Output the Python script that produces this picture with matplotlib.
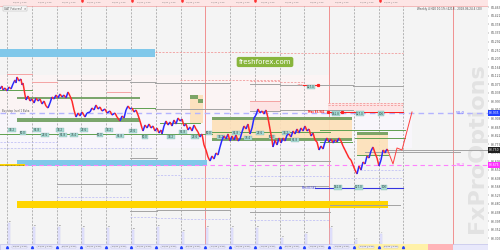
import matplotlib
matplotlib.use("Agg")
import matplotlib.pyplot as plt
from matplotlib.patches import Rectangle
from matplotlib.collections import LineCollection
import matplotlib.transforms as mtransforms
import numpy as np

# ---------------- data ----------------
bar_x = [0, 2, 3, 5, 7, 9, 11, 13, 15, 16, 17, 19, 21, 22, 23, 25, 26, 28, 30, 32, 34, 36, 38, 40,
         42, 44, 46, 48, 50, 52, 54, 56, 58, 60, 62, 64, 66, 68, 70, 72, 74, 76, 78, 80, 82, 85,
         87, 90, 92, 94, 96, 98, 100, 102, 105, 107, 110, 112, 115, 117, 120, 122, 124, 126, 128,
         130, 132, 134, 136, 138, 140, 142, 143, 145, 147, 149, 151, 153, 155, 157, 159, 161, 162,
         164, 166, 168, 170, 172, 174, 176, 178, 180, 182, 184, 186, 188, 190, 192, 194, 196, 198,
         200, 202, 204, 206, 208, 210, 212, 214, 216, 218, 220, 222, 224, 226, 228, 230, 232, 234,
         236, 238, 240, 242, 244, 246, 248, 250, 252, 254, 256, 258, 260, 262, 264, 266, 268, 270,
         272, 273, 275, 277, 279, 281, 283, 285, 287, 289, 291, 293, 295, 297, 299, 301, 303, 305,
         307, 309, 311, 313, 315, 317, 319, 321, 323, 325, 327, 329, 331, 333, 335, 337, 339, 341,
         343, 345, 347, 349, 351, 353, 355, 357, 359, 361, 363, 365, 367, 369, 371, 373, 375, 377,
         379, 381, 383, 385, 387, 388]
price = [84.055, 84.070, 84.050, 84.060, 84.045, 84.065, 84.055, 84.080, 84.100, 84.085, 84.115,
         84.095, 84.105, 84.075, 84.085, 84.025, 84.000, 84.020, 83.995, 84.005, 83.985, 84.010,
         83.995, 84.005, 83.980, 83.995, 83.970, 83.960, 83.985, 84.015, 84.005, 84.025, 84.010,
         84.030, 84.015, 84.025, 84.010, 84.040, 84.020, 83.995, 83.950, 83.915, 83.935, 83.920,
         83.940, 83.915, 83.935, 83.940, 83.960, 83.950, 83.975, 83.955, 83.965, 83.945, 83.955,
         83.935, 83.945, 83.925, 83.935, 83.915, 83.895, 83.920, 83.910, 83.950, 83.970, 83.955,
         83.960, 83.940, 83.950, 83.925, 83.895, 83.860, 83.845, 83.875, 83.860, 83.880, 83.860,
         83.870, 83.845, 83.860, 83.835, 83.850, 83.830, 83.870, 83.895, 83.875, 83.890, 83.870,
         83.900, 83.880, 83.910, 83.895, 83.905, 83.870, 83.880, 83.850, 83.865, 83.845, 83.875,
         83.855, 83.840, 83.815, 83.830, 83.775, 83.750, 83.715, 83.695, 83.720, 83.705, 83.735,
         83.725, 83.765, 83.800, 83.820, 83.805, 83.830, 83.795, 83.820, 83.800, 83.825, 83.795,
         83.805, 83.840, 83.870, 83.855, 83.880, 83.830, 83.860, 83.910, 83.925, 83.955, 83.935,
         83.945, 83.930, 83.950, 83.910, 83.855, 83.800, 83.765, 83.800, 83.775, 83.810, 83.785,
         83.810, 83.795, 83.825, 83.830, 83.815, 83.845, 83.830, 83.855, 83.835, 83.860, 83.845,
         83.870, 83.845, 83.855, 83.820, 83.835, 83.800, 83.790, 83.750, 83.770, 83.755, 83.790,
         83.810, 83.790, 83.805, 83.785, 83.800, 83.790, 83.810, 83.795, 83.770, 83.750, 83.730,
         83.710, 83.700, 83.675, 83.650, 83.630, 83.670, 83.650, 83.690, 83.680, 83.720, 83.710,
         83.745, 83.765, 83.735, 83.710, 83.670, 83.700, 83.750, 83.735, 83.755, 83.745]
proj_x = [388, 393, 397, 402, 412]
proj_p = [83.745, 83.680, 83.760, 83.750, 83.940]

day_lines = [7, 32, 57, 81, 106, 131, 156, 181, 230, 255, 280, 304, 354, 379, 403]
session_lines = [205, 329, 453]
top_dates = ["23/01 | 1:00", "24/01 | 1:00", "25/01 | 1:00", "26/01 | 1:00", "29/01 | 1:00",
             "30/01 | 1:00", "31/01 | 1:00", "01/02 | 1:00", "02/02 | 1:00", "05/02 | 1:00",
             "06/02 | 1:00", "07/02 | 1:00", "08/02 | 1:00", "09/02 | 1:00", "12/02 | 1:00",
             "13/02 | 1:00"]
bottom_dates = ["23/01 | 4:00", "24/01 | 4:00", "25/01 | 4:00", "26/01 | 4:00", "29/01 | 4:00",
                "30/01 | 4:00", "31/01 | 4:00", "01/02 | 4:00", "02/02 | 4:00", "05/02 | 4:00",
                "06/02 | 4:00", "07/02 | 4:00", "08/02 | 4:00", "09/02 | 4:00", "12/02 | 4:00",
                "13/02 | 4:00"]

blue_bands = [(0, 155, 84.255, 84.215), (17, 207, 83.700, 83.670)]
yellow_bands = [(17, 388, 83.495, 83.460)]
peach_boxes = [(190, 203, 84.025, 83.885), (212, 352, 83.915, 83.800), (357, 388, 83.840, 83.725)]
green_bars = [(17, 140, 84.015, 84.003), (17, 140, 83.910, 83.890), (190, 198, 84.025, 84.005),
              (198, 203, 84.005, 83.985), (212, 352, 83.915, 83.900), (212, 352, 83.812, 83.797),
              (357, 388, 83.842, 83.825)]
green_lines = [(0, 32, 84.050), (130, 155, 83.960), (160, 200, 83.885), (0, 212, 83.830),
               (320, 405, 83.850), (355, 405, 83.810), (320, 352, 83.790), (212, 330, 83.840),
               (357, 388, 83.725)]
gray_lines = [(57, 130, 84.100), (130, 155, 84.090), (155, 230, 84.085), (250, 280, 84.080),
              (280, 353, 84.075), (353, 403, 84.070), (155, 230, 83.955), (250, 280, 83.945),
              (280, 353, 83.950), (130, 157, 83.710), (57, 130, 83.580), (130, 157, 83.445),
              (157, 230, 83.450), (250, 330, 83.695), (365, 460, 83.740), (250, 328, 83.570),
              (250, 330, 83.440), (330, 400, 83.475), (383, 488, 83.750)]
pink_lines = [(7, 32, 84.130), (32, 57, 84.090), (107, 130, 84.040), (250, 280, 83.995)]
pink_dashed = [(155, 280, 84.240), (280, 403, 84.235), (180, 280, 84.100), (250, 280, 84.093),
               (280, 303, 84.088), (328, 403, 83.985), (328, 403, 83.975)]
pink_fills = [(250, 280, 83.995, 83.945), (328, 403, 83.985, 83.945)]
lav_lines = [(0, 153, 83.760), (57, 130, 83.515), (157, 180, 83.625), (180, 230, 83.610),
             (130, 157, 83.415), (157, 180, 83.410), (180, 230, 83.405), (0, 57, 83.790),
             (250, 330, 83.620), (330, 403, 83.610), (250, 330, 83.400), (353, 403, 83.650)]
max_line = [(303, 318, 84.075), (327, 403, 83.940)]
min_line = (315, 403, 83.560)
fib_mid = 83.935
fib_low = 83.675

teal_labels = [(12, 83.850, "38.2"), (23, 83.835, "50.0"), (37, 83.850, "61.8"), (45, 83.825, "23.6"),
               (60, 83.850, "38.2"), (63, 83.825, "61.8"), (74, 83.825, "76.4"), (84, 83.850, "23.6"),
               (100, 83.825, "50.0"), (109, 83.850, "38.2"), (120, 83.820, "61.8"), (133, 83.845, "23.6"),
               (145, 83.815, "50.0"), (171, 83.815, "38.2"), (183, 83.840, "61.8"), (195, 83.815, "23.6"),
               (209, 83.835, "50.0"), (221, 83.815, "38.2"), (236, 83.835, "61.8"), (248, 83.810, "76.4"),
               (260, 83.835, "23.6"), (272, 83.815, "50.0"), (286, 83.835, "38.2"), (295, 83.800, "61.8"),
               (311, 84.065, "127.0"), (336, 83.932, "161.8"), (360, 83.932, "127.0"), (381, 83.932, "100"),
               (338, 83.563, "161.8"), (359, 83.563, "127.0"), (384, 83.563, "100")]
vol_x = [8, 33, 58, 82, 107, 132, 157, 182, 206, 231, 256, 281, 305, 330, 355, 380]
vol_top = [83.385, 83.365, 83.365, 83.360, 83.360, 83.350, 83.365, 83.340, 83.360, 83.360,
           83.360, 83.310, 83.330, 83.360, 83.300, 83.330]
vol_text = ["75", "69", "68", "64", "63", "58", "67", "51", "60", "62", "61", "14", "32", "55", "6", "7"]

# ---------------- figure ----------------
fig = plt.figure(figsize=(5, 2.5), dpi=100)
fig.patch.set_facecolor("white")
ax = fig.add_axes([0, 0, 0.976, 1])
ax.set_xlim(0, 488)
ax.set_ylim(83.25, 84.50)
ax.set_facecolor("#f4f4f4")
for s in ax.spines.values():
    s.set_visible(False)

# faint background zones
ax.add_patch(Rectangle((0, 83.935), 330, 0.19, fc="#fbf4f4", ec="none", zorder=0))
ax.add_patch(Rectangle((0, 83.76), 412, 0.175, fc="#f8f6fb", ec="none", zorder=0))

# watermark (behind everything)
ax.text(477, 83.76, "FxProOptions", fontsize=16, fontweight="bold", color="#e2e2e2",
        rotation=90, ha="center", va="center", zorder=0.5)

# grid (day separators)
for x in day_lines:
    ax.axvline(x, color="#9a9a9a", lw=0.5, ls=(0, (3, 2)), zorder=1)
for x in session_lines:
    ax.axvline(x, color="#f09090", lw=0.7, zorder=1)

def band(x0, x1, top, bot, fc, z=2, alpha=1.0):
    ax.add_patch(Rectangle((x0, bot), x1 - x0, top - bot, fc=fc, ec="none", zorder=z, alpha=alpha))

for b in pink_fills:
    band(*b, "#fde4e4", z=1.5)
for b in blue_bands:
    band(*b, "#80c8ea", z=2)
for b in yellow_bands:
    band(*b, "#ffd500", z=2)
for b in peach_boxes:
    band(*b, "#fde0b8", z=2, alpha=0.9)
for b in green_bars:
    band(*b, "#6e9e5e", z=2.5, alpha=0.9)

for x0, x1, p in green_lines:
    ax.plot([x0, x1], [p, p], color="#5fa04f", lw=0.7, zorder=2.6)
for x0, x1, p in gray_lines:
    ax.plot([x0, x1], [p, p], color="#a3a3a3", lw=0.7, zorder=2.2)
for x0, x1, p in pink_lines:
    ax.plot([x0, x1], [p, p], color="#f4a4a4", lw=0.7, zorder=2.2)
for x0, x1, p in pink_dashed:
    ax.plot([x0, x1], [p, p], color="#f08a8a", lw=0.5, ls=(0, (3, 2)), zorder=2.2)
for x0, x1, p in lav_lines:
    ax.plot([x0, x1], [p, p], color="#b8b8f4", lw=0.5, ls=(0, (3, 2)), zorder=2.2)

# fib levels
ax.axhline(fib_mid, color="#b4b4ff", lw=1.0, ls=(0, (4, 3)), zorder=2.3)
ax.axhline(fib_low, color="#ff80ff", lw=0.8, ls=(0, (4, 3)), zorder=2.3)
ax.text(460, fib_mid, "50.0", color="#6a6aff", fontsize=3, va="center", ha="center", zorder=5)
ax.text(460, fib_low, "38.2", color="#ff60ff", fontsize=3, va="center", ha="center", zorder=5)

# max / min lines
for x0, x1, p in max_line:
    ax.plot([x0, x1], [p, p], color="#ff2020", lw=0.8, zorder=3)
ax.plot([318, 328, 342], [84.075, 83.940, 83.940], ls="none", marker="s", ms=1.3,
        color="#ff2020", zorder=3.1)
ax.text(316, 83.940, "Max 83.941", color="#ff2020", fontsize=1.8, ha="center", va="center",
        fontweight="bold", zorder=5)
ax.text(300, 84.078, "MAX", color="#ff6060", fontsize=1.6, ha="center", va="center", zorder=5,
        bbox=dict(fc="#fde0e0", ec="none", pad=0.2))
x0, x1, p = min_line
ax.plot([x0, x1], [p, p], color="#3434e0", lw=0.8, zorder=3)
ax.text(309, p, "Min 83.563", color="#3434e0", fontsize=1.8, ha="center", va="center", zorder=5)

# teal labels
for x, p, t in teal_labels:
    ax.text(x, p, t, fontsize=2.0, color="#304040", ha="center", va="center", zorder=4,
            bbox=dict(fc="#a9dcd6", ec="#7aa8a4", lw=0.2, pad=0.35))

# level labels on the left
ax.text(2, fib_mid + 0.006, "Buy stop level 1 Buha", fontsize=1.8, color="#505050", zorder=5)
ax.text(0.5, fib_low, "Sell stop level 1 Buha", fontsize=1.6, color="#404040", va="center", zorder=5,
        bbox=dict(fc="#ffd500", ec="none", pad=0.3))

# price path
pts = np.column_stack([bar_x, price])
segs = np.stack([pts[:-1], pts[1:]], axis=1)
cols = ["#2a2aff" if price[i + 1] > price[i] else "#ff2a2a" for i in range(len(price) - 1)]
ax.add_collection(LineCollection(segs, colors=cols, linewidths=1.1, zorder=4))
ax.plot(proj_x, proj_p, color="#ff4040", lw=0.7, zorder=4)

# volume-like bars at bottom
for x, top, t in zip(vol_x, vol_top, vol_text):
    ax.add_patch(Rectangle((x, 83.28), 2.2, top - 83.28, fc="#e4e4ff", ec="#c8c8f0", lw=0.3, zorder=2))
    ax.text(x + 1, top + 0.004, t, fontsize=1.6, color="#707070", ha="left", va="bottom", zorder=3)

# top strip
tr = ax.transAxes
ax.add_patch(Rectangle((0, 1 - 5.5 / 250), 1, 5.5 / 250, transform=tr, fc="#fde5e5", ec="none", zorder=6))
ax.axhline(84.4725, color="#f2a0a0", lw=0.5, zorder=6.1)
all_lines = sorted(day_lines + [205, 329])
for i, x in enumerate(all_lines[:-1]):
    ax.text((x + all_lines[i + 1]) / 2, 84.487, top_dates[i], fontsize=1.6, color="#707070",
            ha="center", va="center", zorder=7)
ax.plot([82, 132, 182, 255, 380], [84.493] * 5, ls="none", marker="v", ms=1.3,
        color="#ff3030", zorder=7)

# bottom strip
ax.add_patch(Rectangle((0, 0), 1, 6 / 250, transform=tr, fc="#e8e8fb", ec="#b8b8e8", lw=0.4, zorder=6))
ax.add_patch(Rectangle((355, 83.25), 73, 0.028, fc="#fff1a8", ec="none", zorder=6.1))
ax.add_patch(Rectangle((428, 83.25), 25, 0.028, fc="#ffb4b8", ec="none", zorder=6.1))
for i, x in enumerate(all_lines[:-1]):
    ax.text((x + all_lines[i + 1]) / 2, 83.265, bottom_dates[i], fontsize=1.6, color="#505050",
            ha="center", va="center", zorder=7,
            bbox=dict(fc="#f4f4ff", ec="#a0a0d0", lw=0.2, pad=0.3))
ax.plot(all_lines, [83.267] * len(all_lines), ls="none", marker="^", ms=1.5,
        color="#2040ff", zorder=7)

# freshforex watermark
ax.text(265, 84.19, "freshforex.com", fontsize=5, color="white", ha="center", va="center",
        zorder=8, bbox=dict(boxstyle="round,pad=0.3,rounding_size=0.3", fc="#88b53c", ec="none"))

# header texts
ax.text(4, 84.457, "GAT Futures?  \u00d7", fontsize=2, color="#505050", va="center", zorder=7,
        bbox=dict(fc="#f8f8f8", ec="#b0b0b0", lw=0.3, pad=0.4))
ax.text(482, 84.455, "Weekly 4 H20 10.1% (4218 - 2018.06.24 4 (20)", fontsize=2, color="#505050",
        ha="right", va="center", zorder=7)

# right price axis
ax.yaxis.tick_right()
ticks = 84.4635 - 0.04275 * np.arange(28)
ax.set_yticks(ticks)
ax.set_yticklabels([f"{t:.3f}" for t in ticks])
ax.tick_params(axis="y", labelsize=2.2, length=1, width=0.3, pad=0.8, colors="#505050")
ax.set_xticks([])
blend = mtransforms.blended_transform_factory(ax.transAxes, ax.transData)
for p, fc in [(fib_mid, "#2040ff"), (83.750, "#202020"), (fib_low, "#ff30ff")]:
    ax.text(1.002, p, f"{p:.3f}", transform=blend, fontsize=2.2, color="white", va="center",
            ha="left", zorder=9, bbox=dict(fc=fc, ec="none", pad=0.4), clip_on=False)

fig.savefig("out.png", dpi=100, facecolor="white")
